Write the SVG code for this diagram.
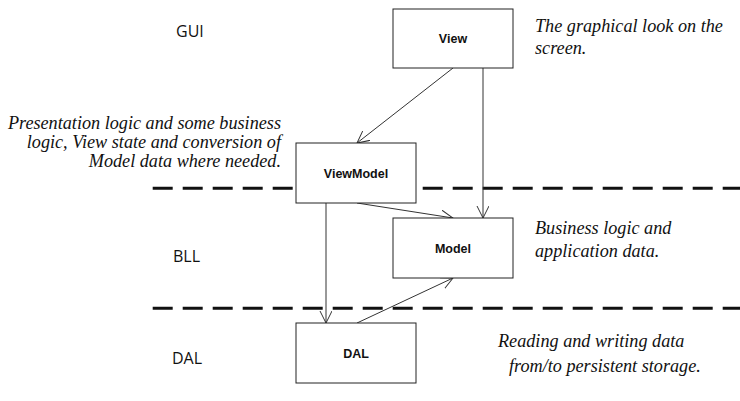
<svg xmlns="http://www.w3.org/2000/svg" width="740" height="401" viewBox="0 0 740 401">
<style>
.box{fill:#fff;stroke:#222;stroke-width:1}
.lbl{font-family:"Liberation Sans",Arial,sans-serif;font-weight:bold;font-size:12.5px;fill:#111;text-anchor:middle}
.layer{font-family:"Open Sans","Liberation Sans",sans-serif;font-size:16px;fill:#111}
.note{font-family:"Liberation Serif","Times New Roman",serif;font-style:italic;font-size:18.2px;fill:#111}
.dash{stroke:#111;stroke-width:3;stroke-dasharray:20 10;fill:none}
.conn{stroke:#333;stroke-width:1;fill:none;marker-end:url(#arr)}
</style>
<defs>
<marker id="arr" markerWidth="14" markerHeight="14" refX="12" refY="6" orient="auto" markerUnits="userSpaceOnUse">
<path d="M0,0 L12,6 L0,12" fill="none" stroke="#333" stroke-width="1"/>
</marker>
</defs>
<g id="layers">
<line class="dash" x1="152.7" y1="188.3" x2="740" y2="188.3"/>
<line class="dash" x1="152.7" y1="308.3" x2="740" y2="308.3"/>
<text class="layer" x="176" y="37">GUI</text>
<text class="layer" x="173" y="262">BLL</text>
<text class="layer" x="172" y="364">DAL</text>
</g>
<g id="notes">
<text class="note" x="535" y="32">The graphical look on the</text>
<text class="note" x="535" y="54">screen.</text>
<text class="note" text-anchor="end" x="281" y="129">Presentation logic and some business</text>
<text class="note" text-anchor="end" x="281" y="148">logic, View state and conversion of</text>
<text class="note" text-anchor="end" x="281" y="167">Model data where needed.</text>
<text class="note" x="535" y="234">Business logic and</text>
<text class="note" x="535" y="257">application data.</text>
<text class="note" x="498" y="347">Reading and writing data</text>
<text class="note" x="509" y="372">from/to persistent storage.</text>
</g>
<g id="connectors">
<line class="conn" x1="453" y1="68" x2="357" y2="143"/>
<line class="conn" x1="483" y1="68" x2="483" y2="218"/>
<line class="conn" x1="357" y1="203" x2="453" y2="218"/>
<line class="conn" x1="326" y1="203" x2="326" y2="323"/>
<line class="conn" x1="357" y1="323" x2="453" y2="278"/>
</g>
<g id="node-view">
<rect class="box" x="393" y="9" width="120" height="59"/>
<text class="lbl" x="453" y="43">View</text>
</g>
<g id="node-viewmodel">
<rect class="box" x="296" y="143" width="120" height="60"/>
<text class="lbl" x="356" y="177.5">ViewModel</text>
</g>
<g id="node-model">
<rect class="box" x="393" y="218" width="120" height="60"/>
<text class="lbl" x="453" y="252.5">Model</text>
</g>
<g id="node-dal">
<rect class="box" x="296" y="323" width="120" height="60"/>
<text class="lbl" x="356" y="357.5">DAL</text>
</g>
</svg>
